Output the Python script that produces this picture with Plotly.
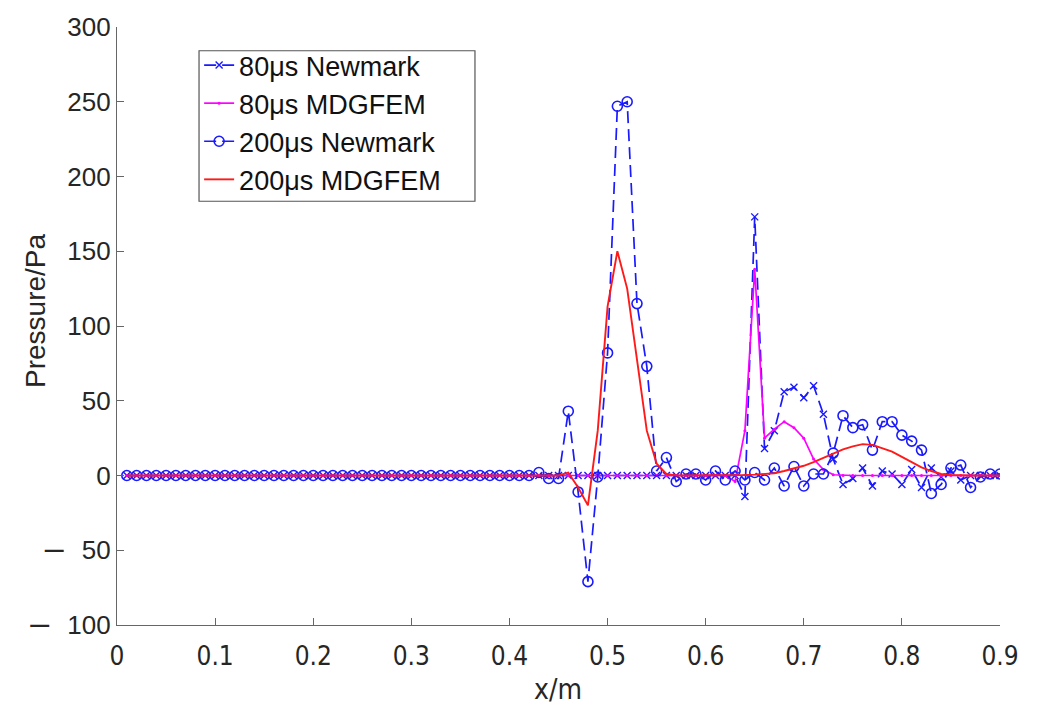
import plotly.graph_objects as go

x_m = [0.01, 0.02, 0.03, 0.04, 0.05, 0.06, 0.07, 0.08, 0.09, 0.10,
       0.11, 0.12, 0.13, 0.14, 0.15, 0.16, 0.17, 0.18, 0.19, 0.20,
       0.21, 0.22, 0.23, 0.24, 0.25, 0.26, 0.27, 0.28, 0.29, 0.30,
       0.31, 0.32, 0.33, 0.34, 0.35, 0.36, 0.37, 0.38, 0.39, 0.40,
       0.41, 0.42, 0.43, 0.44, 0.45, 0.46, 0.47, 0.48, 0.49, 0.50,
       0.51, 0.52, 0.53, 0.54, 0.55, 0.56, 0.57, 0.58, 0.59, 0.60,
       0.61, 0.62, 0.63, 0.64, 0.65, 0.66, 0.67, 0.68, 0.69, 0.70,
       0.71, 0.72, 0.73, 0.74, 0.75, 0.76, 0.77, 0.78, 0.79, 0.80,
       0.81, 0.82, 0.83, 0.84, 0.85, 0.86, 0.87, 0.88, 0.89, 0.90]

newmark_80us = [0, 0, 0, 0, 0, 0, 0, 0, 0, 0,
                0, 0, 0, 0, 0, 0, 0, 0, 0, 0,
                0, 0, 0, 0, 0, 0, 0, 0, 0, 0,
                0, 0, 0, 0, 0, 0, 0, 0, 0, 0,
                0, 0, 0, 0, 0, 0, 0, 0, 0, 0,
                0, 0, 0, 0, 0, 0, 0, 0, 0, 0,
                0, 0, 0, -14, 173, 18, 30, 56, 59, 52,
                60, 41, 11, -6, -2, 5, -7, 3, 1, -6,
                4, -8, 5, -1, 3, -3, 0, 0, 0, 0]

mdgfem_80us = [0, 0, 0, 0, 0, 0, 0, 0, 0, 0,
               0, 0, 0, 0, 0, 0, 0, 0, 0, 0,
               0, 0, 0, 0, 0, 0, 0, 0, 0, 0,
               0, 0, 0, 0, 0, 0, 0, 0, 0, 0,
               0, 0, 0, 0, 0, 0, 0, 0, 0, 0,
               0, 0, 0, 0, 0, 0, 0, 0, 0, 0,
               0, 0, -4, 30, 138, 25, 31, 36, 32, 25,
               11, 4, 0.5, 0, 0, 0, 0, 0, 0, 0,
               0, 0, 0, 0, 0, 0, 0, 0, 0, 0]

newmark_200us = [0, 0, 0, 0, 0, 0, 0, 0, 0, 0,
                 0, 0, 0, 0, 0, 0, 0, 0, 0, 0,
                 0, 0, 0, 0, 0, 0, 0, 0, 0, 0,
                 0, 0, 0, 0, 0, 0, 0, 0, 0, 0,
                 0, 0, 2, -2, -2, 43, -11, -71, -1, 82,
                 247, 250, 115, 73, 3, 12, -4, 1, 1, -3,
                 3, -3, 3, -3, 2, -3, 5, -7, 6, -7,
                 1, 1, 15, 40, 32, 34, 17, 36, 36, 27,
                 23, 17, -12, -6, 5, 7, -8, -1, 1, 1]

mdgfem_200us = [0, 0, 0, 0, 0, 0, 0, 0, 0, 0,
                0, 0, 0, 0, 0, 0, 0, 0, 0, 0,
                0, 0, 0, 0, 0, 0, 0, 0, 0, 0,
                0, 0, 0, 0, 0, 0, 0, 0, 0, 0,
                0, 0, 0, 0, 0, 2, -8, -20, 30, 113,
                150, 125, 78, 30, 8, 1, 0, 0, 0, 0,
                0, 0, 0, 0.3, 0.6, 1, 1.5, 3, 4.5, 6.5,
                9, 12, 15, 17.5, 19.5, 21, 20.5, 18.5, 16, 12.5,
                9, 5.5, 3, 1, 0.3, 0, 0, 0, 0, 0]

x_ticks = [0, 0.1, 0.2, 0.3, 0.4, 0.5, 0.6, 0.7, 0.8, 0.9]
x_tick_text = ["0", "0.1", "0.2", "0.3", "0.4", "0.5", "0.6", "0.7", "0.8", "0.9"]
y_ticks = [-100, -50, 0, 50, 100, 150, 200, 250, 300]
MINUS = "<span style='font-size:34px'>\u2013</span>\u2002\u2009"
y_tick_text = [MINUS + "100", MINUS + "50", "0", "50", "100", "150", "200", "250", "300"]

BLUE = "#1a1aff"
MAGENTA = "#ff00ff"
RED = "#ff1a1a"
DASH = "12px,6px"
NARROW = "Liberation Sans Narrow, DejaVu Sans Condensed, Liberation Sans"

fig = go.Figure()
fig.add_trace(go.Scatter(
    x=x_m, y=newmark_80us, name="80\u03bcs Newmark", mode="lines+markers",
    line=dict(color=BLUE, width=1.7, dash=DASH),
    marker=dict(symbol="x-thin-open", size=7, color=BLUE, line=dict(color=BLUE, width=1.4)),
))
fig.add_trace(go.Scatter(
    x=x_m, y=mdgfem_80us, name="80\u03bcs MDGFEM", mode="lines+markers",
    line=dict(color=MAGENTA, width=1.7),
    marker=dict(symbol="circle", size=3, color=MAGENTA),
))
fig.add_trace(go.Scatter(
    x=x_m, y=newmark_200us, name="200\u03bcs Newmark", mode="lines+markers",
    line=dict(color=BLUE, width=1.7, dash=DASH),
    marker=dict(symbol="circle-open", size=10, color=BLUE, line=dict(color=BLUE, width=1.6)),
))
fig.add_trace(go.Scatter(
    x=x_m, y=mdgfem_200us, name="200\u03bcs MDGFEM", mode="lines",
    line=dict(color=RED, width=1.9),
))

fig.update_layout(
    width=1037, height=711,
    margin=dict(l=117, r=37, t=21, b=86),
    paper_bgcolor="white", plot_bgcolor="white",
    font=dict(family="Liberation Sans, Arial, sans-serif", size=26, color="#262626"),
    showlegend=True,
    legend=dict(
        x=0.093, y=0.9766, xanchor="left", yanchor="top",
        bgcolor="rgba(0,0,0,0)", borderwidth=0,
        font=dict(size=27, color="#111111"),
        itemwidth=30, tracegroupgap=0,
    ),
    shapes=[dict(
        type="rect", xref="paper", yref="paper", layer="below",
        x0=0.0929, x1=0.4054, y0=0.7086, y1=0.9603,
        line=dict(color="#555555", width=1.2), fillcolor="white",
    )],
    annotations=[
        dict(text="Pressure/Pa", xref="paper", yref="paper", x=-0.0929, y=0.525,
             xanchor="center", yanchor="middle", textangle=-90, showarrow=False,
             font=dict(size=28, color="#262626")),
        dict(text="x/m", xref="paper", yref="paper", x=0.499, y=-0.1076,
             xanchor="center", yanchor="middle", showarrow=False,
             font=dict(family=NARROW, size=28, color="#262626")),
    ],
)
fig.update_xaxes(
    range=[0, 0.9], tickmode="array", tickvals=x_ticks, ticktext=x_tick_text,
    ticks="inside", ticklen=7, tickcolor="#666666", tickwidth=1,
    showline=True, linecolor="#666666", linewidth=1.2, mirror=False,
    showgrid=False, zeroline=False, ticklabelstandoff=8,
    tickfont=dict(family=NARROW, size=26),
)
fig.update_yaxes(
    range=[-100, 300], tickmode="array", tickvals=y_ticks, ticktext=y_tick_text,
    ticks="inside", ticklen=7, tickcolor="#666666", tickwidth=1,
    showline=True, linecolor="#666666", linewidth=1.2, mirror=False,
    showgrid=False, zeroline=False,
    tickfont=dict(size=26),
)

fig.write_html("out.html")
